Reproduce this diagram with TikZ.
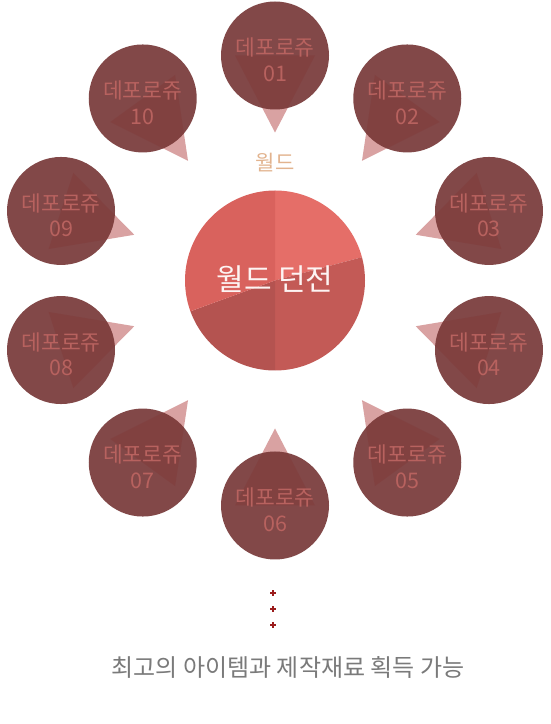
\documentclass[tikz,border=0pt]{standalone}
\usepackage{fontspec}
\setmainfont{Noto Sans CJK KR}
\usetikzlibrary{calc}
\definecolor{tripink}{HTML}{D9A2A2}
\definecolor{satbase}{HTML}{7D4141}
\definecolor{satdark}{HTML}{8A302C}
\definecolor{sattxt}{HTML}{B8625F}
\definecolor{hubA}{HTML}{E56E68}
\definecolor{hubB}{HTML}{C35A56}
\definecolor{hubC}{HTML}{B45350}
\definecolor{hubD}{HTML}{D9625D}
\definecolor{worldtxt}{HTML}{E2B38E}
\definecolor{bottomtxt}{HTML}{7A7A7A}
\definecolor{dotred}{HTML}{9B1C1C}
\tikzset{
  tri/.style={fill=tripink},
  satfill/.style={fill=satbase, fill opacity=0.96},
  satover/.style={fill=satdark, fill opacity=0.15},
  sattext/.style={text=sattxt, font=\fontsize{21.5}{24}\selectfont, inner sep=0pt},
  hubtext/.style={text=white!92!hubA, font=\fontsize{30}{34}\selectfont, inner sep=0pt},
  worldlbl/.style={text=worldtxt, font=\fontsize{21}{24}\selectfont, inner sep=0pt},
  bottomlbl/.style={text=bottomtxt, font=\fontsize{24}{28}\selectfont, inner sep=0pt},
  plusmark/.style={draw=dotred, line width=1.6pt},
}
\begin{document}
\begin{tikzpicture}[x=1pt,y=1pt]
\useasboundingbox (0,0) rectangle (550,724);
\fill[white] (0,0) rectangle (550,724);
\coordinate (c) at (275,443.5);
% satellites
\foreach \a/\n in {90/01,54/02,18/03,-18/04,-54/05,-90/06,-126/07,-162/08,162/09,126/10}{
  \coordinate (s\n) at ($(c)+(\a:225)$);
  \coordinate (tip\n) at ($(s\n)+(\a+180:77)$);
  \coordinate (bl\n) at ($(s\n)+(\a+90:40)$);
  \coordinate (br\n) at ($(s\n)+(\a-90:40)$);
  \fill[tri] (tip\n) -- (bl\n) -- (br\n) -- cycle;
  \fill[satfill] (s\n) circle (54);
  \begin{scope}
    \clip (s\n) circle (54);
    \fill[satover] (tip\n) -- (bl\n) -- (br\n) -- cycle;
  \end{scope}
  \node[sattext] (t\n) at ($(s\n)+(0,8)$) {데포로쥬};
  \node[sattext] (n\n) at ($(s\n)+(0,-18)$) {\n};
}
% hub
\fill[hubA] (c) -- ($(c)+(90:90)$) arc[start angle=90,end angle=15,radius=90] -- cycle;
\fill[hubB] (c) -- ($(c)+(15:90)$) arc[start angle=15,end angle=-90,radius=90] -- cycle;
\fill[hubC] (c) -- ($(c)+(-90:90)$) arc[start angle=-90,end angle=-160,radius=90] -- cycle;
\fill[hubD] (c) -- ($(c)+(200:90)$) arc[start angle=200,end angle=90,radius=90] -- cycle;
\node[circle, minimum size=180pt, inner sep=0pt] (hub) at (c) {};
\node[hubtext] (hubt) at ($(c)+(0,1)$) {월드 던전};
\node[worldlbl] (world) at (275,561) {월드};
% dots
\foreach \y/\k in {131/a,115/b,99/c}{
  \coordinate (d\k) at (273,\y);
  \draw[plusmark] ($(d\k)+(-3,0)$) -- ($(d\k)+(3,0)$) ($(d\k)+(0,-3)$) -- ($(d\k)+(0,3)$);
}
\node[bottomlbl] (bottom) at (288,57) {최고의 아이템과 제작재료 획득 가능};
\end{tikzpicture}
\end{document}
